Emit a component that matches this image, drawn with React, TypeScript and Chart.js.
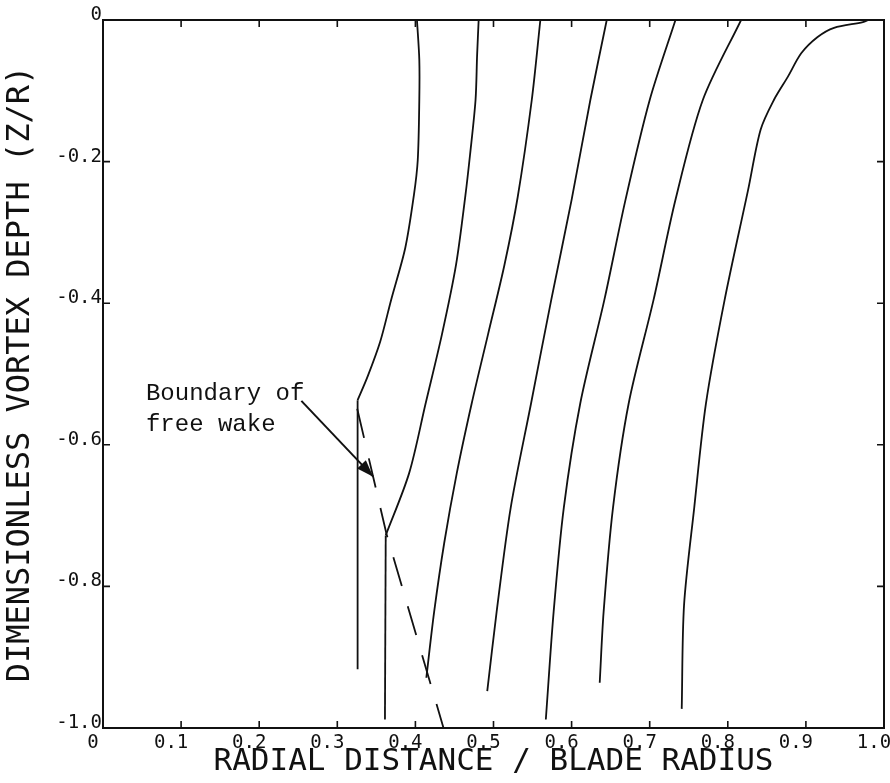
import React, { useEffect, useRef } from "react";
import { Chart, registerables } from "chart.js";

Chart.register(...registerables);

// ---- data (radial distance r/R, vortex depth z/R) ----
const r1 = [0.402, 0.405, 0.405, 0.403, 0.398, 0.387, 0.369, 0.355, 0.339, 0.326];
const z1 = [0, -0.056, -0.113, -0.198, -0.248, -0.322, -0.395, -0.454, -0.503, -0.537];
const r1Tail = [0.326, 0.326];
const z1Tail = [-0.537, -0.917];

const r2 = [0.481, 0.479, 0.477, 0.470, 0.464, 0.452, 0.434, 0.413, 0.392, 0.362];
const z2 = [0, -0.05, -0.113, -0.19, -0.248, -0.346, -0.444, -0.542, -0.640, -0.728];
const r2Tail = [0.362, 0.361];
const z2Tail = [-0.728, -0.988];

const r3 = [0.560, 0.549, 0.531, 0.514, 0.493, 0.472, 0.453, 0.437, 0.424, 0.414];
const z3 = [0, -0.113, -0.25, -0.346, -0.444, -0.542, -0.640, -0.738, -0.836, -0.929];

const r4 = [0.645, 0.624, 0.600, 0.574, 0.548, 0.522, 0.504, 0.492];
const z4 = [0, -0.113, -0.254, -0.395, -0.542, -0.689, -0.836, -0.948];

const r5 = [0.733, 0.700, 0.669, 0.642, 0.611, 0.590, 0.577, 0.567];
const z5 = [0, -0.113, -0.254, -0.395, -0.542, -0.689, -0.836, -0.988];

const r6 = [0.817, 0.768, 0.733, 0.705, 0.673, 0.653, 0.641, 0.636];
const z6 = [0, -0.113, -0.254, -0.395, -0.542, -0.689, -0.836, -0.936];

const r7 = [0.98, 0.973, 0.936, 0.915, 0.894, 0.877, 0.859, 0.842, 0.826, 0.796, 0.772, 0.757, 0.744, 0.741];
const z7 = [0, -0.003, -0.011, -0.024, -0.047, -0.08, -0.113, -0.155, -0.24, -0.395, -0.542, -0.689, -0.826, -0.973];

// boundary of free wake (dashed)
const rBoundary = [0.3255, 0.363, 0.436];
const zBoundary = [-0.549, -0.726, -1.0];

// annotation
const annotationLines = ["Boundary of", "free wake"];
const annotationAnchor = { x: 0.055, y: -0.528 };
const arrowTail = { x: 0.254, y: -0.538 };
const arrowTip = { x: 0.346, y: -0.645 };

const xTitle = "RADIAL DISTANCE / BLADE RADIUS";
const yTitle = "DIMENSIONLESS VORTEX DEPTH (Z/R)";

const INK = "#111111";

const toPoints = (xs: number[], ys: number[]) => xs.map((x, i) => ({ x, y: ys[i] }));

const framePlugin = {
  id: "frameAndNotes",
  afterDatasetsDraw(chart: any) {
    const { ctx, chartArea: a, scales } = chart;
    const xs = scales.x;
    const ys = scales.y;
    const T = 7;
    ctx.save();
    ctx.strokeStyle = INK;
    ctx.lineWidth = 2;
    ctx.strokeRect(a.left, a.top, a.right - a.left, a.bottom - a.top);
    ctx.lineWidth = 1.6;
    ctx.beginPath();
    xs.ticks.forEach((t: any) => {
      if (t.value <= 0.0001 || t.value >= 0.9999) return;
      const px = xs.getPixelForValue(t.value);
      ctx.moveTo(px, a.bottom);
      ctx.lineTo(px, a.bottom - T);
      ctx.moveTo(px, a.top);
      ctx.lineTo(px, a.top + T);
    });
    ys.ticks.forEach((t: any) => {
      if (t.value >= -0.0001 || t.value <= -0.9999) return;
      const py = ys.getPixelForValue(t.value);
      ctx.moveTo(a.left, py);
      ctx.lineTo(a.left + T, py);
      ctx.moveTo(a.right, py);
      ctx.lineTo(a.right - T, py);
    });
    ctx.stroke();

    // annotation text
    ctx.fillStyle = INK;
    ctx.font = "24px 'Liberation Mono', 'DejaVu Sans Mono', monospace";
    ctx.textBaseline = "middle";
    ctx.textAlign = "left";
    const tx = xs.getPixelForValue(annotationAnchor.x);
    const ty = ys.getPixelForValue(annotationAnchor.y);
    annotationLines.forEach((s, i) => ctx.fillText(s, tx, ty + i * 31));

    // arrow
    const x0 = xs.getPixelForValue(arrowTail.x);
    const y0 = ys.getPixelForValue(arrowTail.y);
    const x1 = xs.getPixelForValue(arrowTip.x);
    const y1 = ys.getPixelForValue(arrowTip.y);
    ctx.lineWidth = 2;
    ctx.beginPath();
    ctx.moveTo(x0, y0);
    ctx.lineTo(x1, y1);
    ctx.stroke();
    const ang = Math.atan2(y1 - y0, x1 - x0);
    const L = 17, W = 6;
    const bx = x1 - L * Math.cos(ang);
    const by = y1 - L * Math.sin(ang);
    ctx.beginPath();
    ctx.moveTo(x1, y1);
    ctx.lineTo(bx + W * Math.sin(ang), by - W * Math.cos(ang));
    ctx.lineTo(bx - W * Math.sin(ang), by + W * Math.cos(ang));
    ctx.closePath();
    ctx.fill();
    ctx.restore();
  },
};

export default function App() {
  const ref = useRef<HTMLCanvasElement | null>(null);
  useEffect(() => {
    document.body.style.margin = "0";
    const canvas = ref.current;
    if (!canvas) return;
    const smooth = {
      borderColor: INK,
      borderWidth: 1.8,
      pointRadius: 0,
      showLine: true,
      fill: false,
      tension: 0.3,
    };
    const straight = { ...smooth, tension: 0 };
    const chart = new Chart(canvas, {
      type: "scatter",
      data: {
        datasets: [
          { ...smooth, data: toPoints(r1, z1) },
          { ...straight, data: toPoints(r1Tail, z1Tail) },
          { ...smooth, data: toPoints(r2, z2) },
          { ...straight, data: toPoints(r2Tail, z2Tail) },
          { ...smooth, data: toPoints(r3, z3) },
          { ...smooth, data: toPoints(r4, z4) },
          { ...smooth, data: toPoints(r5, z5) },
          { ...smooth, data: toPoints(r6, z6) },
          { ...smooth, data: toPoints(r7, z7) },
          { ...straight, borderDash: [30, 21], data: toPoints(rBoundary, zBoundary) },
        ],
      },
      options: {
        responsive: false,
        maintainAspectRatio: false,
        animation: false,
        layout: { padding: { top: 20, right: 6, left: 0, bottom: 0 } },
        plugins: { legend: { display: false }, tooltip: { enabled: false } },
        scales: {
          x: {
            type: "linear",
            min: 0,
            max: 1,
            grid: { display: false, drawTicks: false },
            border: { display: false },
            ticks: {
              stepSize: 0.1,
              padding: 4,
              labelOffset: -10,
              color: INK,
              font: { family: "'DejaVu Sans Mono'", size: 19 },
              callback: (v: any) => (Math.abs(v) < 1e-9 ? "0" : Number(v).toFixed(1)),
            },
            title: {
              display: true,
              text: xTitle,
              color: INK,
              font: { family: "'DejaVu Sans Mono'", size: 31 },
              padding: { top: 0, bottom: 2 },
            },
            afterFit: (s: any) => {
              s.height = 55;
              s.paddingLeft = 0;
              s.paddingRight = 0;
            },
          },
          y: {
            type: "linear",
            min: -1,
            max: 0,
            grid: { display: false, drawTicks: false },
            border: { display: false },
            ticks: {
              stepSize: 0.2,
              padding: 1,
              labelOffset: -5,
              color: INK,
              font: { family: "'DejaVu Sans Mono'", size: 19 },
              callback: (v: any) => (Math.abs(v) < 1e-9 ? "0" : Number(v).toFixed(1)),
            },
            title: {
              display: true,
              text: yTitle,
              color: INK,
              font: { family: "'DejaVu Sans Mono'", size: 32 },
              padding: { top: 1, bottom: 0 },
            },
            afterFit: (s: any) => {
              s.width = 103;
            },
          },
        },
      },
      plugins: [framePlugin],
    });
    return () => chart.destroy();
  }, []);
  return (
    <div style={{ width: 890, height: 783, background: "#fff" }}>
      <canvas ref={ref} width={890} height={783} style={{ display: "block" }} />
    </div>
  );
}
